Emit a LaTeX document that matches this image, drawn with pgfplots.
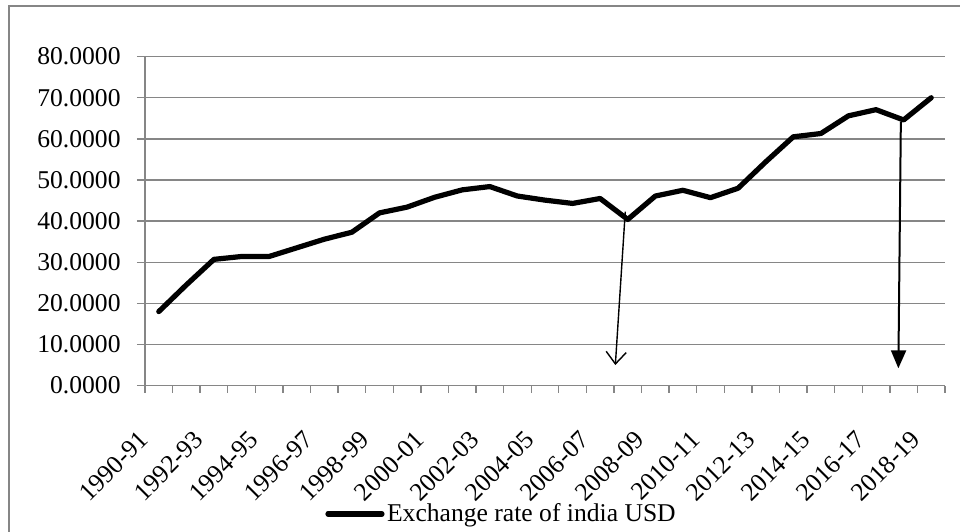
\documentclass[border=0pt]{standalone}
\usepackage{pgfplots}
\pgfplotsset{compat=1.18}
\usepackage{fontspec}
\setmainfont{Liberation Serif}
\usetikzlibrary{arrows.meta}
\definecolor{axgray}{RGB}{134,134,134}
\begin{document}
\begin{tikzpicture}[font=\fontsize{12.8}{15}\selectfont]
\path[use as bounding box] (-72.5pt,-72.7pt) rectangle (407.5pt,192.8pt);
\draw[axgray, line width=0.65pt] (-68pt,-90pt) -- (-68pt,189.8pt) -- (430pt,189.8pt);
\begin{axis}[
  at={(0,0)}, anchor=south west,
  scale only axis, width=400pt, height=164.5pt,
  xmin=-0.5, xmax=28.5, ymin=0, ymax=80,
  axis x line*=bottom, axis y line*=left,
  axis line style={axgray, line width=0.7pt},
  ytick={0,10,...,80},
  ymajorgrids, grid style={axgray, line width=0.7pt},
  yticklabel style={anchor=east, inner sep=0pt, xshift=-8pt},
  /pgf/number format/.cd, fixed, fixed zerofill, precision=4, assume math mode=true,
  /pgfplots/.cd,
  xtick={0,2,...,28},
  xticklabels={1990-91,1992-93,1994-95,1996-97,1998-99,2000-01,2002-03,2004-05,2006-07,2008-09,2010-11,2012-13,2014-15,2016-17,2018-19},
  minor xtick={-0.5,0.5,...,28.5},
  every major x tick/.append style={draw=none},
  every minor x tick/.append style={axgray, line width=0.7pt},
  every major y tick/.append style={axgray, line width=0.7pt},
  tick align=outside, major tick length=4pt, minor tick length=3.5pt,
  xticklabel style={inner sep=0pt, xshift=-7.5pt, yshift=-21pt, rotate=45, anchor=east},
  ticklabel style={font=\fontsize{12.8}{15}\selectfont},
  legend style={at={(rel axis cs:0.446,-0.39)}, anchor=center, draw=none, fill=none,
    font=\fontsize{12.8}{15}\selectfont, inner sep=0pt,
    nodes={inner sep=1.25pt}},
  legend image code/.code={\draw[#1] (0pt,0pt) -- (27pt,0pt);},
  legend cell align=left,
]
\addplot[black, line width=2.6pt, line join=round, line cap=round] coordinates {
(0,18.0) (1,24.5) (2,30.7) (3,31.4) (4,31.4) (5,33.5) (6,35.6) (7,37.3)
(8,42.0) (9,43.4) (10,45.8) (11,47.6) (12,48.4) (13,46.1) (14,45.1) (15,44.3)
(16,45.5) (17,40.4) (18,46.1) (19,47.5) (20,45.7) (21,48.0) (22,54.4) (23,60.5)
(24,61.3) (25,65.6) (26,67.1) (27,64.6) (28,70.0)
};
\addlegendentry{Exchange rate of india USD}
\draw[black, line width=0.7pt, -{Straight Barb[length=6pt, width=10pt]}] (axis cs:16.91,42.3) -- (axis cs:16.55,5.0);
\draw[black, line width=1pt, -{Triangle[length=9pt, width=7.5pt]}] (axis cs:26.90,64.2) -- (axis cs:26.81,4.2);
\end{axis}
\end{tikzpicture}
\end{document}
